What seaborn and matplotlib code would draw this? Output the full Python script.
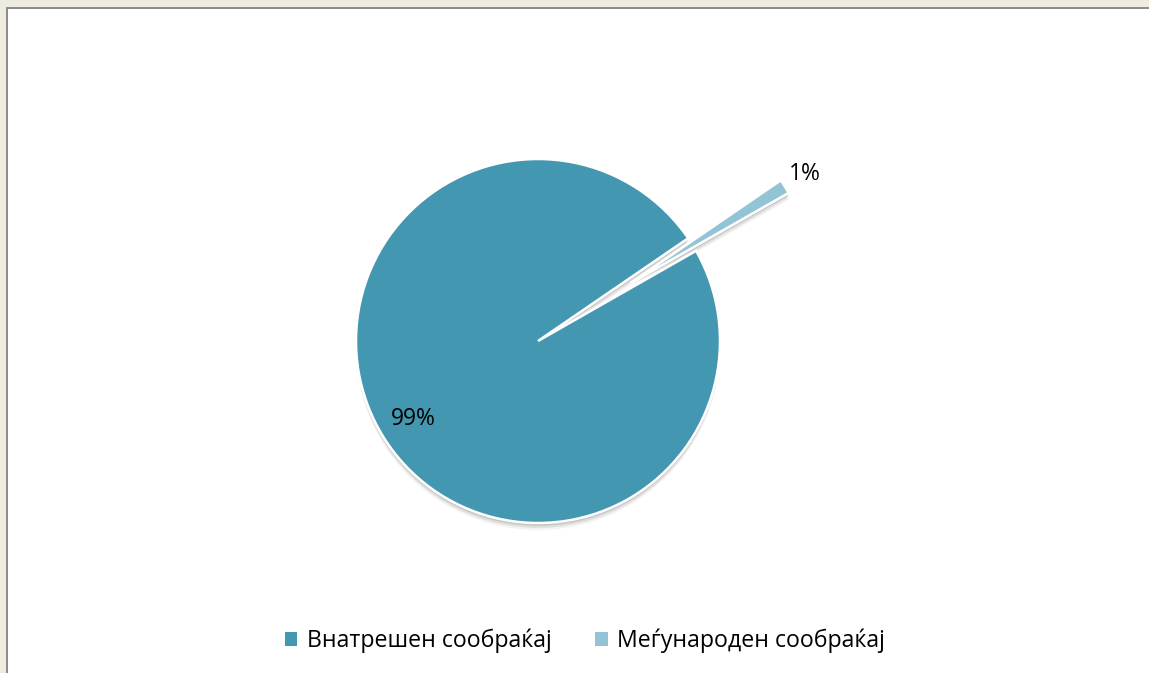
import matplotlib
matplotlib.use("Agg")
import matplotlib.pyplot as plt
import seaborn as sns
import numpy as np
from matplotlib.patches import Rectangle, Shadow

categories = ["Внатрешен сообраќај", "Меѓународен сообраќај"]
shares = [98.7, 1.3]
colors = ["#4397B0", "#92C4D6"]

sns.set_theme(style="white")
plt.rcParams['font.family'] = ['Open Sans', 'DejaVu Sans']

W, H = 1149, 673
fig = plt.figure(figsize=(W / 100, H / 100), dpi=100)
fig.patch.set_facecolor("white")
ax = fig.add_axes([0, 0, 1, 1])
ax.set_xlim(0, W)
ax.set_ylim(0, H)
ax.set_aspect("equal")
ax.axis("off")

cx, cy, r = 538, H - 341, 182
explode = [0, 0.6 * r]
wedges, texts, autotexts = ax.pie(
    shares, colors=colors, explode=explode, startangle=29.7, counterclock=False,
    center=(cx, cy), radius=r, autopct="%.0f%%", pctdistance=0.81,
    wedgeprops=dict(edgecolor="white", linewidth=1.8),
    textprops=dict(fontsize=16.5, color="black"), frame=False)
ax.set_xlim(0, W)
ax.set_ylim(0, H)

# soft drop shadow under wedges
for w in wedges:
    for oy, a in [(-2, 0.18), (-3.5, 0.12), (-5, 0.07)]:
        s = Shadow(w, 0, oy, facecolor="#555555", edgecolor="none", alpha=a)
        s.set_zorder(w.get_zorder() - 0.5)
        ax.add_patch(s)

# reposition the small slice label outside its exploded wedge
w = wedges[1]
ang = np.deg2rad((w.theta1 + w.theta2) / 2)
wc = np.array(w.center)
autotexts[1].set_position((wc[0] + 1.13 * r * np.cos(ang), wc[1] + 1.13 * r * np.sin(ang)))

leg = ax.legend(wedges, categories, loc="center", bbox_to_anchor=(585 / W, 1 - 641 / H),
                ncol=2, frameon=False, fontsize=16.7, handlelength=0.52, handleheight=0.52,
                handletextpad=0.4, columnspacing=1.9)
for t in leg.get_texts():
    t.set_color("black")
for h in leg.legend_handles:
    h.set_edgecolor("none")

# outer frame strips (beige with grey rule)
fig.patches.append(Rectangle((0, 1 - 7 / H), 1, 7 / H, transform=fig.transFigure,
                             facecolor="#EEEBE0", edgecolor="none", zorder=10))
fig.patches.append(Rectangle((0, 0), 6 / W, 1, transform=fig.transFigure,
                             facecolor="#EEEBE0", edgecolor="none", zorder=10))
fig.patches.append(Rectangle((6 / W, 1 - 9 / H), 1, 2 / H, transform=fig.transFigure,
                             facecolor="#8C8C8C", edgecolor="none", zorder=11))
fig.patches.append(Rectangle((6 / W, 0), 2 / W, 1 - 7 / H, transform=fig.transFigure,
                             facecolor="#8C8C8C", edgecolor="none", zorder=11))

fig.savefig("out.png", dpi=100, facecolor="white")
